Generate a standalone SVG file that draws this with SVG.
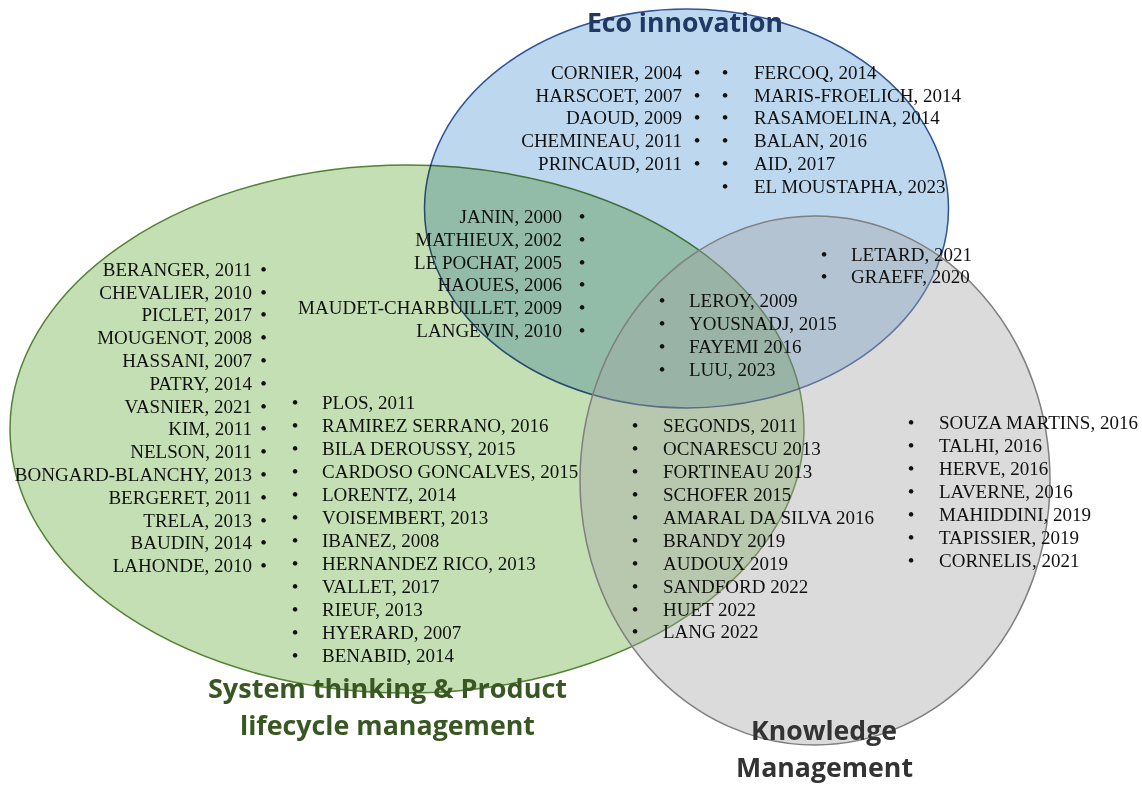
<svg xmlns="http://www.w3.org/2000/svg" width="1142" height="787" viewBox="0 0 1142 787">
<style>
.t{font-family:"Liberation Serif","Times New Roman",serif;font-size:19px;fill:#111}
.e{text-anchor:end}
.b{font-family:"Liberation Serif","Times New Roman",serif;font-size:19px;fill:#111;text-anchor:middle}
.ttl{font-family:"Open Sans","Noto Sans","DejaVu Sans",sans-serif;font-weight:700;font-size:27px}
</style>
<rect width="1142" height="787" fill="#ffffff"/>
<g id="system-thinking">
<ellipse cx="407" cy="429" rx="397" ry="264" fill="#C5DFB4" stroke="#548235" stroke-width="1.5"/>
</g>
<g id="eco-innovation">
<ellipse cx="686.5" cy="208.5" rx="262" ry="199.5" fill="#BDD7EE" stroke="#2F5597" stroke-width="1.5" style="mix-blend-mode:multiply"/>
</g>
<g id="knowledge-management">
<ellipse cx="815" cy="480.5" rx="235" ry="264.5" fill="#A6A6A6" fill-opacity="0.4" stroke="#7F7F7F" stroke-width="1.5"/>
</g>
<g id="connectors"></g>
<g id="titles">
<text class="ttl" x="587" y="32" fill="#203864" textLength="196" lengthAdjust="spacingAndGlyphs">Eco innovation</text>
<text class="ttl" x="208" y="698" fill="#385723" textLength="359" lengthAdjust="spacingAndGlyphs">System thinking &amp; Product</text>
<text class="ttl" x="240" y="735" fill="#385723" textLength="295" lengthAdjust="spacingAndGlyphs">lifecycle management</text>
<text class="ttl" x="751" y="740" fill="#333333" textLength="146" lengthAdjust="spacingAndGlyphs">Knowledge</text>
<text class="ttl" x="736" y="777" fill="#333333" textLength="177" lengthAdjust="spacingAndGlyphs">Management</text>
</g>
<g id="list-eco-left">
<text class="t e" x="682" y="79">CORNIER, 2004</text>
<text class="t e" x="682" y="101.7">HARSCOET, 2007</text>
<text class="t e" x="682" y="124.4">DAOUD, 2009</text>
<text class="t e" x="682" y="147.1">CHEMINEAU, 2011</text>
<text class="t e" x="682" y="169.8">PRINCAUD, 2011</text>
<text class="b" x="697" y="79">•</text>
<text class="b" x="697" y="101.7">•</text>
<text class="b" x="697" y="124.4">•</text>
<text class="b" x="697" y="147.1">•</text>
<text class="b" x="697" y="169.8">•</text>
</g>
<g id="list-eco-right">
<text class="b" x="725" y="79">•</text>
<text class="b" x="725" y="101.7">•</text>
<text class="b" x="725" y="124.4">•</text>
<text class="b" x="725" y="147.1">•</text>
<text class="b" x="725" y="169.8">•</text>
<text class="b" x="725" y="192.5">•</text>
<text class="t" x="754" y="79">FERCOQ, 2014</text>
<text class="t" x="754" y="101.7">MARIS-FROELICH, 2014</text>
<text class="t" x="754" y="124.4">RASAMOELINA, 2014</text>
<text class="t" x="754" y="147.1">BALAN, 2016</text>
<text class="t" x="754" y="169.8">AID, 2017</text>
<text class="t" x="754" y="192.5">EL MOUSTAPHA, 2023</text>
</g>
<g id="list-eco-system">
<text class="t e" x="562" y="223">JANIN, 2000</text>
<text class="t e" x="562" y="245.8">MATHIEUX, 2002</text>
<text class="t e" x="562" y="268.6">LE POCHAT, 2005</text>
<text class="t e" x="562" y="291.4">HAOUES, 2006</text>
<text class="t e" x="562" y="314.2">MAUDET-CHARBUILLET, 2009</text>
<text class="t e" x="562" y="337">LANGEVIN, 2010</text>
<text class="b" x="582" y="223">•</text>
<text class="b" x="582" y="245.8">•</text>
<text class="b" x="582" y="268.6">•</text>
<text class="b" x="582" y="291.4">•</text>
<text class="b" x="582" y="314.2">•</text>
<text class="b" x="582" y="337">•</text>
</g>
<g id="list-system-left">
<text class="t e" x="252" y="275.7">BERANGER, 2011</text>
<text class="t e" x="252" y="298.5">CHEVALIER, 2010</text>
<text class="t e" x="252" y="321.3">PICLET, 2017</text>
<text class="t e" x="252" y="344.1">MOUGENOT, 2008</text>
<text class="t e" x="252" y="366.9">HASSANI, 2007</text>
<text class="t e" x="252" y="389.7">PATRY, 2014</text>
<text class="t e" x="252" y="412.5">VASNIER, 2021</text>
<text class="t e" x="252" y="435.3">KIM, 2011</text>
<text class="t e" x="252" y="458.1">NELSON, 2011</text>
<text class="t e" x="252" y="480.9">BONGARD-BLANCHY, 2013</text>
<text class="t e" x="252" y="503.7">BERGERET, 2011</text>
<text class="t e" x="252" y="526.5">TRELA, 2013</text>
<text class="t e" x="252" y="549.3">BAUDIN, 2014</text>
<text class="t e" x="252" y="572.1">LAHONDE, 2010</text>
<text class="b" x="263.5" y="275.7">•</text>
<text class="b" x="263.5" y="298.5">•</text>
<text class="b" x="263.5" y="321.3">•</text>
<text class="b" x="263.5" y="344.1">•</text>
<text class="b" x="263.5" y="366.9">•</text>
<text class="b" x="263.5" y="389.7">•</text>
<text class="b" x="263.5" y="412.5">•</text>
<text class="b" x="263.5" y="435.3">•</text>
<text class="b" x="263.5" y="458.1">•</text>
<text class="b" x="263.5" y="480.9">•</text>
<text class="b" x="263.5" y="503.7">•</text>
<text class="b" x="263.5" y="526.5">•</text>
<text class="b" x="263.5" y="549.3">•</text>
<text class="b" x="263.5" y="572.1">•</text>
</g>
<g id="list-system-right">
<text class="b" x="295" y="409.3">•</text>
<text class="b" x="295" y="432.2">•</text>
<text class="b" x="295" y="455.2">•</text>
<text class="b" x="295" y="478.1">•</text>
<text class="b" x="295" y="501.1">•</text>
<text class="b" x="295" y="524">•</text>
<text class="b" x="295" y="547">•</text>
<text class="b" x="295" y="569.9">•</text>
<text class="b" x="295" y="592.9">•</text>
<text class="b" x="295" y="615.8">•</text>
<text class="b" x="295" y="638.8">•</text>
<text class="b" x="295" y="661.7">•</text>
<text class="t" x="322" y="409.3">PLOS, 2011</text>
<text class="t" x="322" y="432.2">RAMIREZ SERRANO, 2016</text>
<text class="t" x="322" y="455.2">BILA DEROUSSY, 2015</text>
<text class="t" x="322" y="478.1">CARDOSO GONCALVES, 2015</text>
<text class="t" x="322" y="501.1">LORENTZ, 2014</text>
<text class="t" x="322" y="524">VOISEMBERT, 2013</text>
<text class="t" x="322" y="547">IBANEZ, 2008</text>
<text class="t" x="322" y="569.9">HERNANDEZ RICO, 2013</text>
<text class="t" x="322" y="592.9">VALLET, 2017</text>
<text class="t" x="322" y="615.8">RIEUF, 2013</text>
<text class="t" x="322" y="638.8">HYERARD, 2007</text>
<text class="t" x="322" y="661.7">BENABID, 2014</text>
</g>
<g id="list-eco-knowledge">
<text class="b" x="824" y="260.7">•</text>
<text class="b" x="824" y="283.4">•</text>
<text class="t" x="851" y="260.7">LETARD, 2021</text>
<text class="t" x="851" y="283.4">GRAEFF, 2020</text>
</g>
<g id="list-all-three">
<text class="b" x="662" y="307.3">•</text>
<text class="b" x="662" y="330">•</text>
<text class="b" x="662" y="352.7">•</text>
<text class="b" x="662" y="375.6">•</text>
<text class="t" x="689" y="307.3">LEROY, 2009</text>
<text class="t" x="689" y="330">YOUSNADJ, 2015</text>
<text class="t" x="689" y="352.7">FAYEMI 2016</text>
<text class="t" x="689" y="375.6">LUU, 2023</text>
</g>
<g id="list-system-knowledge">
<text class="b" x="635" y="432.3">•</text>
<text class="b" x="635" y="455.2">•</text>
<text class="b" x="635" y="478.1">•</text>
<text class="b" x="635" y="501">•</text>
<text class="b" x="635" y="523.9">•</text>
<text class="b" x="635" y="546.8">•</text>
<text class="b" x="635" y="569.7">•</text>
<text class="b" x="635" y="592.6">•</text>
<text class="b" x="635" y="615.5">•</text>
<text class="b" x="635" y="638.4">•</text>
<text class="t" x="663" y="432.3">SEGONDS, 2011</text>
<text class="t" x="663" y="455.2">OCNARESCU 2013</text>
<text class="t" x="663" y="478.1">FORTINEAU 2013</text>
<text class="t" x="663" y="501">SCHOFER 2015</text>
<text class="t" x="663" y="523.9">AMARAL DA SILVA 2016</text>
<text class="t" x="663" y="546.8">BRANDY 2019</text>
<text class="t" x="663" y="569.7">AUDOUX 2019</text>
<text class="t" x="663" y="592.6">SANDFORD 2022</text>
<text class="t" x="663" y="615.5">HUET 2022</text>
<text class="t" x="663" y="638.4">LANG 2022</text>
</g>
<g id="list-knowledge">
<text class="b" x="911" y="429.3">•</text>
<text class="b" x="911" y="452.2">•</text>
<text class="b" x="911" y="475.1">•</text>
<text class="b" x="911" y="498">•</text>
<text class="b" x="911" y="520.9">•</text>
<text class="b" x="911" y="543.8">•</text>
<text class="b" x="911" y="566.7">•</text>
<text class="t" x="939" y="429.3">SOUZA MARTINS, 2016</text>
<text class="t" x="939" y="452.2">TALHI, 2016</text>
<text class="t" x="939" y="475.1">HERVE, 2016</text>
<text class="t" x="939" y="498">LAVERNE, 2016</text>
<text class="t" x="939" y="520.9">MAHIDDINI, 2019</text>
<text class="t" x="939" y="543.8">TAPISSIER, 2019</text>
<text class="t" x="939" y="566.7">CORNELIS, 2021</text>
</g>
</svg>
